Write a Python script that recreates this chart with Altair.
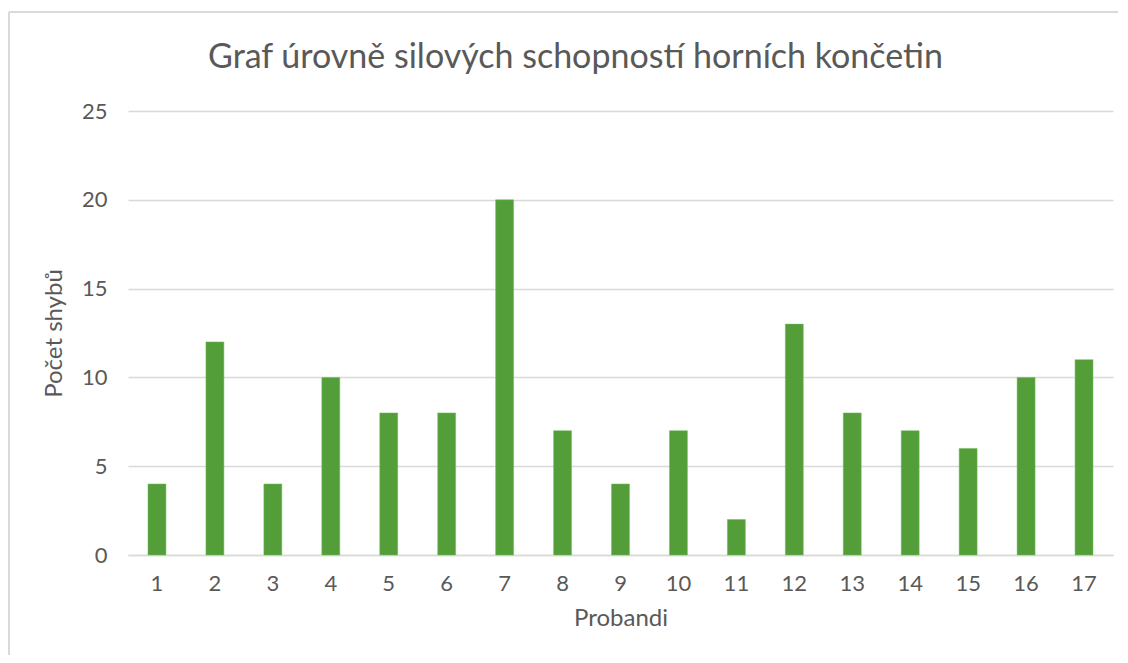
import altair as alt
import pandas as pd

probandi = [str(i) for i in range(1, 18)]
shyby = [4, 12, 4, 10, 8, 8, 20, 7, 4, 7, 2, 13, 8, 7, 6, 10, 11]

df = pd.DataFrame({"Probandi": probandi, "Počet shybů": shyby})

FONT = "Lato"
GREY = "#595959"

bars = alt.Chart(df).mark_bar(color="#549E39", stroke="#6fbf5a", strokeWidth=0.5).encode(
    x=alt.X("Probandi:N", sort=probandi,
            scale=alt.Scale(paddingInner=0.69, paddingOuter=0.345),
            axis=alt.Axis(title="Probandi", labelAngle=0, ticks=False,
                          domainColor="#d9d9d9", domainWidth=1.5,
                          labelPadding=18, titlePadding=12)),
    y=alt.Y("Počet shybů:Q", scale=alt.Scale(domain=[0, 25]),
            axis=alt.Axis(title="Počet shybů", values=[0, 5, 10, 15, 20, 25],
                          ticks=False, domain=False, gridColor="#d9d9d9",
                          gridWidth=1.3, labelPadding=21, titlePadding=15)),
)

border_left = alt.Chart(df).mark_rule(color="#d9d9d9", strokeWidth=2).encode(
    x=alt.value(-119), y=alt.value(-99), y2=alt.value(560)
)
border_top = alt.Chart(df).mark_rule(color="#d9d9d9", strokeWidth=2).encode(
    x=alt.value(-119), x2=alt.value(990), y=alt.value(-99)
)

chart = alt.layer(bars, border_left, border_top).properties(
    width=985, height=444,
    background="white",
    autosize=alt.AutoSizeParams(type="none"),
    padding={"left": 120, "top": 103, "right": 5, "bottom": 100},
    title=alt.TitleParams("Graf úrovně silových schopností horních končetin",
                          font=FONT, fontSize=34, fontWeight="normal",
                          color=GREY, dx=-45, offset=-64, anchor="middle"),
).configure_view(stroke=None).configure_axis(
    labelFont=FONT, titleFont=FONT, labelFontSize=22, titleFontSize=24,
    labelColor=GREY, titleColor=GREY, titleFontWeight="normal"
)

chart.save("out.html", embed_options={"renderer": "svg", "actions": False})
